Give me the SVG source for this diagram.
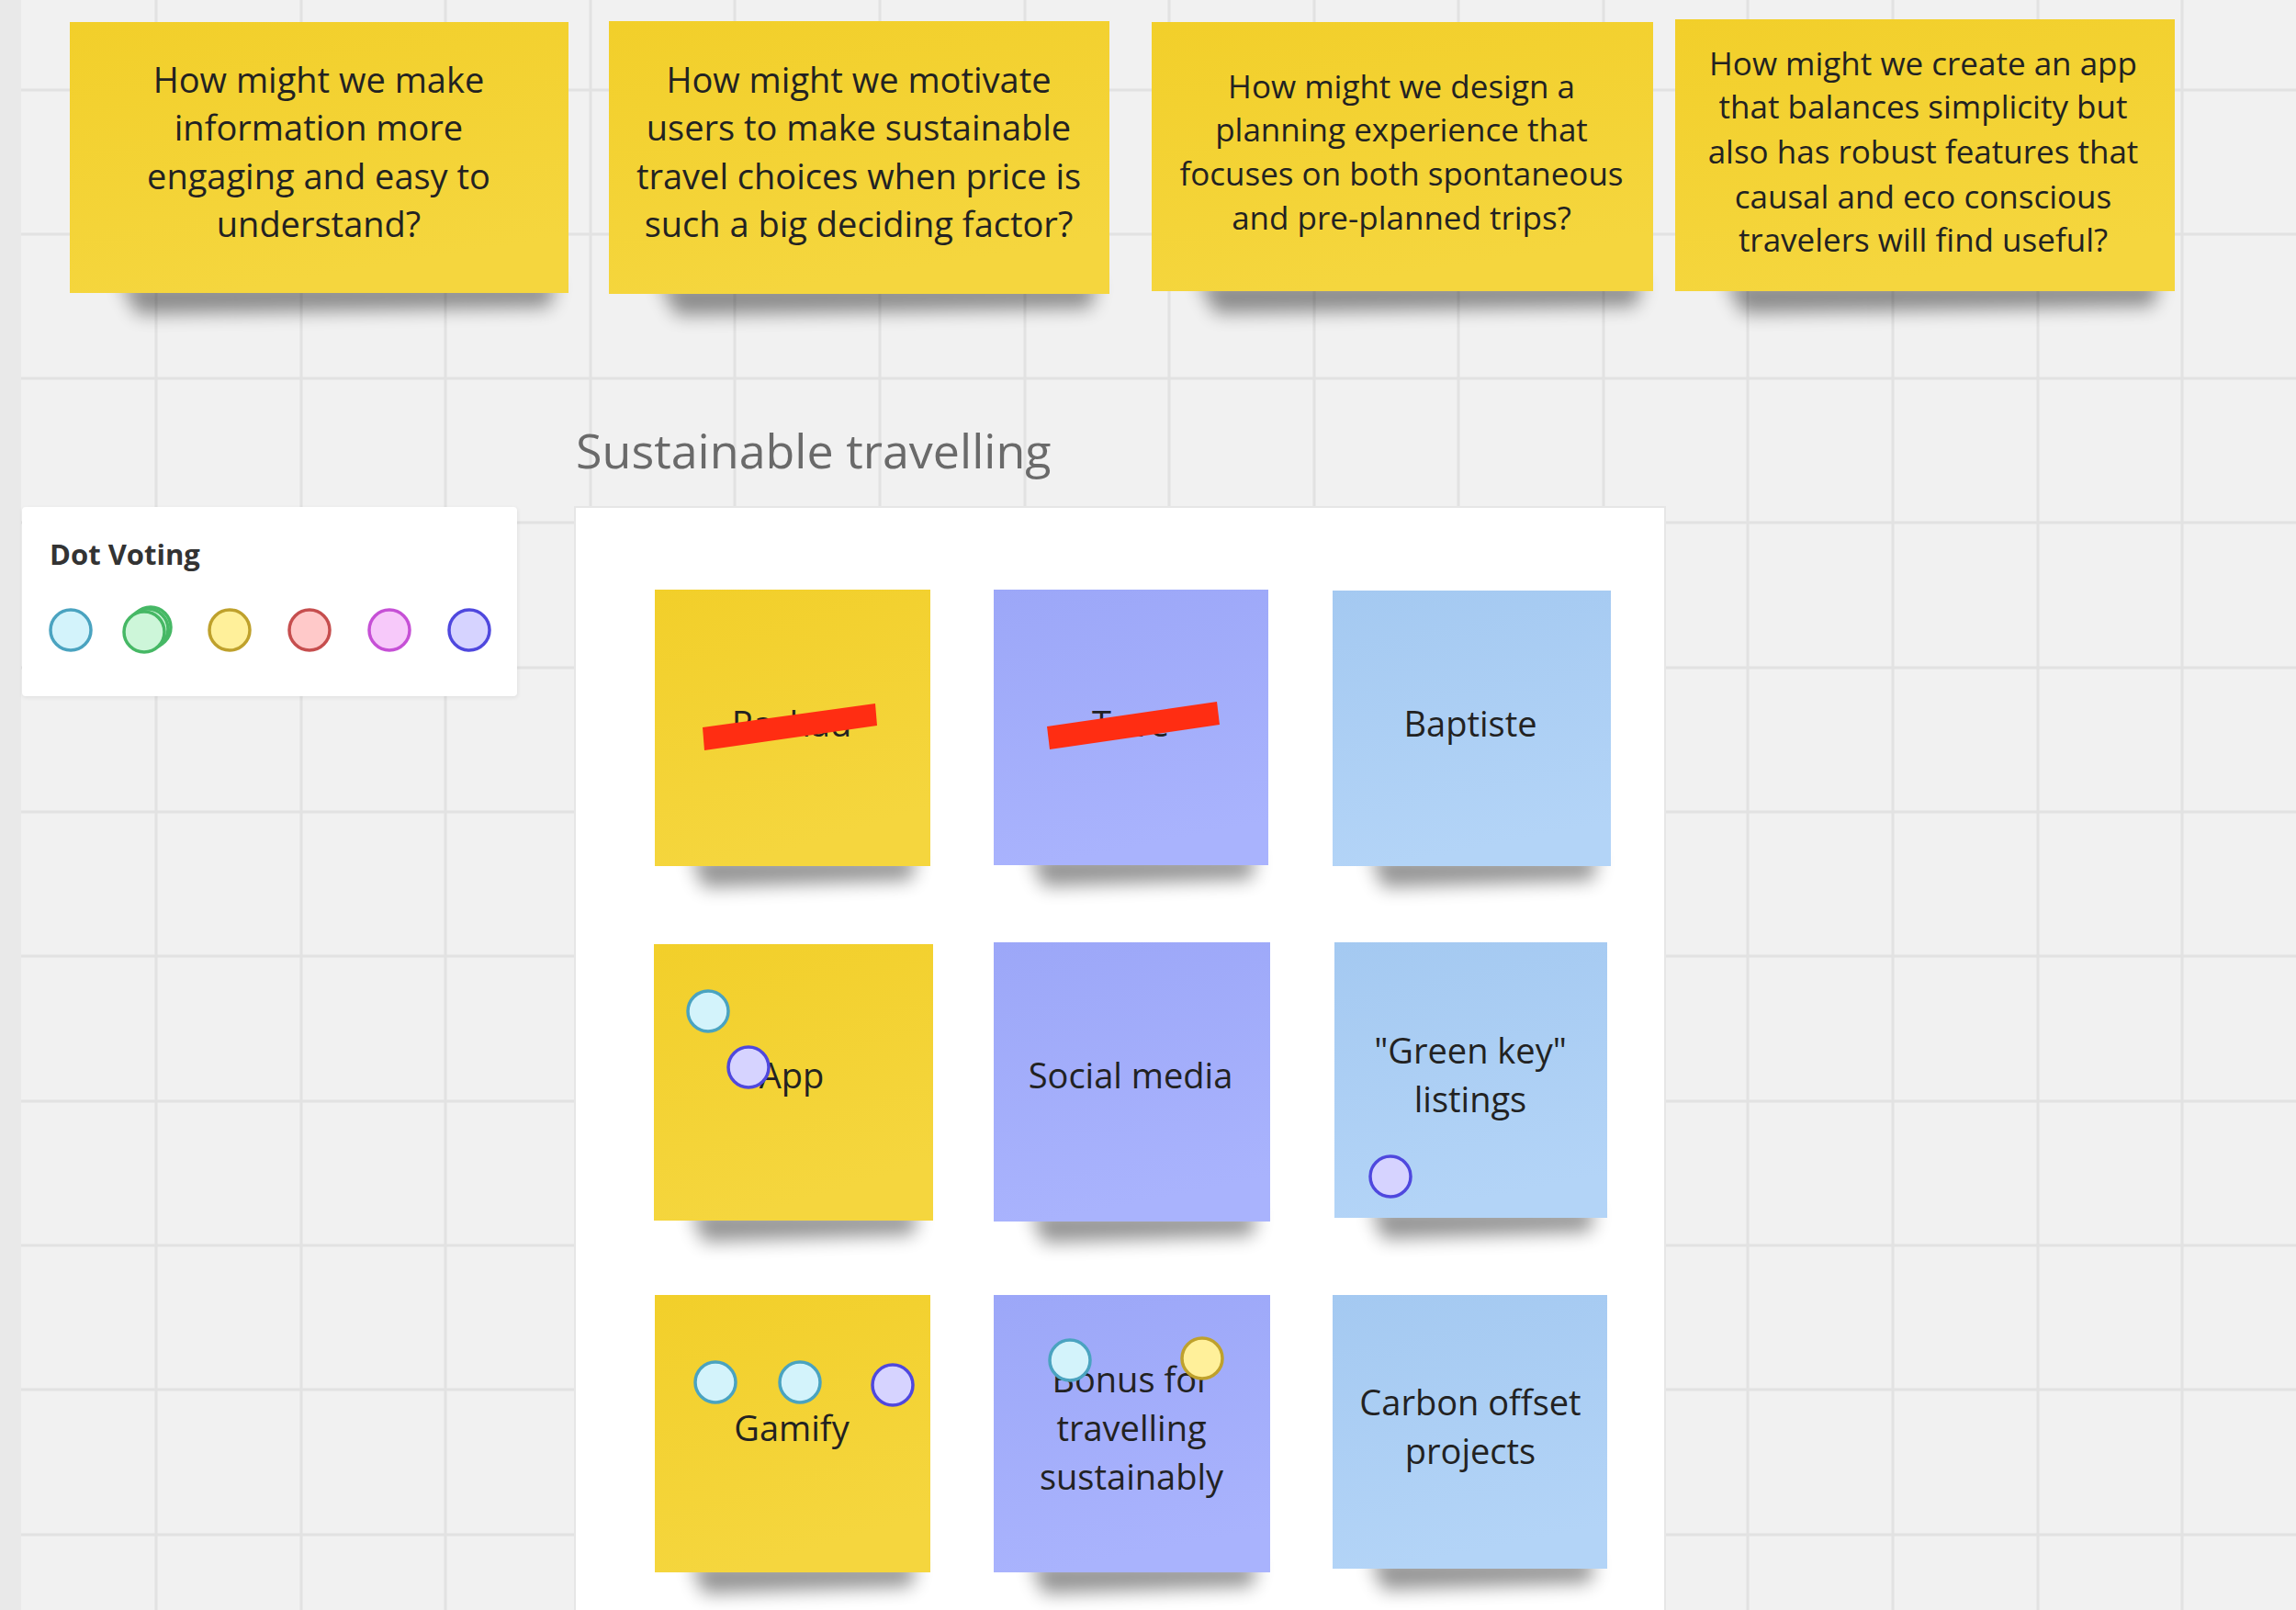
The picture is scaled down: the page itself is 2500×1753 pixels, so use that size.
<svg xmlns="http://www.w3.org/2000/svg" width="2500" height="1753" viewBox="0 0 2500 1753">
<style>
.note-text{font-family:"Open Sans","Liberation Sans",sans-serif;fill:#222222;text-anchor:middle}
.q{font-size:38px}
.q2{font-size:35px}
.g{font-size:38px}
.grid line{stroke:#e2e2e2;stroke-width:3}
.shadow{fill:#000;opacity:0.42;filter:url(#blur)}
.dot{stroke-width:3.5}
.d-blue{fill:#d3f3fb;stroke:#4aa3c0}
.d-green{fill:#cdf6d9;stroke:#46b865}
.d-yellow{fill:#fff09a;stroke:#bfa12c}
.d-red{fill:#ffc9c9;stroke:#c64e4e}
.d-pink{fill:#f7c9fa;stroke:#c650d6}
.d-purple{fill:#d6d3ff;stroke:#4f48de}
.strike{fill:#ff2d12}
</style>
<defs>
<filter id="blur" x="-20%" y="-200%" width="140%" height="500%"><feGaussianBlur stdDeviation="10"/></filter>
<filter id="panelsh" x="-10%" y="-10%" width="120%" height="130%"><feGaussianBlur stdDeviation="2"/></filter>
<linearGradient id="yel" x1="0" y1="0" x2="0.3" y2="1"><stop offset="0" stop-color="#f2cf2a"/><stop offset="1" stop-color="#f5d63e"/></linearGradient>
<linearGradient id="pur" x1="0" y1="0" x2="0.2" y2="1"><stop offset="0" stop-color="#9ca7f8"/><stop offset="1" stop-color="#a9b3fd"/></linearGradient>
<linearGradient id="blu" x1="0" y1="0" x2="0.2" y2="1"><stop offset="0" stop-color="#a4c9f1"/><stop offset="1" stop-color="#b3d4f7"/></linearGradient>
</defs>

<rect x="0" y="0" width="2500" height="1753" fill="#f1f1f1"/>
<g class="grid">
<line x1="170" y1="0" x2="170" y2="1753"/><line x1="328" y1="0" x2="328" y2="1753"/><line x1="485" y1="0" x2="485" y2="1753"/><line x1="643" y1="0" x2="643" y2="1753"/><line x1="800" y1="0" x2="800" y2="1753"/><line x1="958" y1="0" x2="958" y2="1753"/><line x1="1116" y1="0" x2="1116" y2="1753"/><line x1="1273" y1="0" x2="1273" y2="1753"/><line x1="1431" y1="0" x2="1431" y2="1753"/><line x1="1588" y1="0" x2="1588" y2="1753"/><line x1="1746" y1="0" x2="1746" y2="1753"/><line x1="1903" y1="0" x2="1903" y2="1753"/><line x1="2061" y1="0" x2="2061" y2="1753"/><line x1="2219" y1="0" x2="2219" y2="1753"/><line x1="2376" y1="0" x2="2376" y2="1753"/>
<line x1="0" y1="98" x2="2500" y2="98"/><line x1="0" y1="255" x2="2500" y2="255"/><line x1="0" y1="412" x2="2500" y2="412"/><line x1="0" y1="569" x2="2500" y2="569"/><line x1="0" y1="727" x2="2500" y2="727"/><line x1="0" y1="884" x2="2500" y2="884"/><line x1="0" y1="1041" x2="2500" y2="1041"/><line x1="0" y1="1199" x2="2500" y2="1199"/><line x1="0" y1="1356" x2="2500" y2="1356"/><line x1="0" y1="1513" x2="2500" y2="1513"/><line x1="0" y1="1671" x2="2500" y2="1671"/>
</g>
<rect x="0" y="0" width="23" height="1753" fill="#e9e9e9"/>

<!-- Top question notes -->
<g id="q1">
<path class="shadow" d="M130 306 L606 306 L598 334 L150 342 Z"/>
<rect x="76" y="24" width="543" height="295" fill="url(#yel)"/>
<text class="note-text q" x="347" y="101">How might we make</text>
<text class="note-text q" x="347" y="153">information more</text>
<text class="note-text q" x="347" y="206">engaging and easy to</text>
<text class="note-text q" x="347" y="258">understand?</text>
</g>
<g id="q2">
<path class="shadow" d="M717 307 L1195 307 L1187 335 L737 343 Z"/>
<rect x="663" y="23" width="545" height="297" fill="url(#yel)"/>
<text class="note-text q" x="935" y="101">How might we motivate</text>
<text class="note-text q" x="935" y="153">users to make sustainable</text>
<text class="note-text q" x="935" y="206">travel choices when price is</text>
<text class="note-text q" x="935" y="258">such a big deciding factor?</text>
</g>
<g id="q3">
<path class="shadow" d="M1304 305 L1789 305 L1781 333 L1324 341 Z"/>
<rect x="1254" y="24" width="546" height="293" fill="url(#yel)"/>
<text class="note-text q2" x="1526" y="107">How might we design a</text>
<text class="note-text q2" x="1526" y="154">planning experience that</text>
<text class="note-text q2" x="1526" y="202">focuses on both spontaneous</text>
<text class="note-text q2" x="1526" y="250">and pre-planned trips?</text>
</g>
<g id="q4">
<path class="shadow" d="M1878 305 L2352 305 L2344 333 L1898 341 Z"/>
<rect x="1824" y="21" width="544" height="296" fill="url(#yel)"/>
<text class="note-text q2" x="2094" y="82">How might we create an app</text>
<text class="note-text q2" x="2094" y="129">that balances simplicity but</text>
<text class="note-text q2" x="2094" y="178">also has robust features that</text>
<text class="note-text q2" x="2094" y="227">causal and eco conscious</text>
<text class="note-text q2" x="2094" y="274">travelers will find useful?</text>
</g>

<!-- Dot voting panel -->
<g id="dot-voting">
<rect x="24" y="553" width="540" height="207" rx="4" fill="#000" opacity="0.06" filter="url(#panelsh)"/>
<rect x="24" y="552" width="539" height="206" rx="4" fill="#ffffff"/>
<text x="54" y="615" font-family="'Open Sans','Liberation Sans',sans-serif" font-weight="bold" font-size="31" fill="#333333">Dot Voting</text>
<circle class="dot d-blue" cx="77" cy="686" r="22"/>
<circle class="dot d-green" cx="164" cy="683" r="22"/>
<circle class="dot d-green" cx="161" cy="685" r="22"/>
<circle class="dot d-green" cx="157" cy="688" r="22"/>
<circle class="dot d-yellow" cx="250" cy="686" r="22"/>
<circle class="dot d-red" cx="337" cy="686" r="22"/>
<circle class="dot d-pink" cx="424" cy="686" r="22"/>
<circle class="dot d-purple" cx="511" cy="686" r="22"/>
</g>

<!-- Frame -->
<g id="frame-sustainable-travelling">
<text x="627" y="510" font-family="'Open Sans','Liberation Sans',sans-serif" font-size="52" fill="#6a6a6a">Sustainable travelling</text>
<rect x="626" y="552" width="1187" height="1210" fill="#ffffff" stroke="#e6e6e6" stroke-width="2"/>
</g>

<!-- Grid notes row 1 -->
<g id="n-rashad">
<path class="shadow" d="M752 932 L998 932 L992 958 L766 966 Z"/>
<rect x="713" y="642" width="300" height="301" fill="url(#yel)"/>
<text class="note-text g" x="862" y="802">Rashad</text>
<polygon class="strike" points="765,792 953,766 955,790 767,817"/>
</g>
<g id="n-tove">
<path class="shadow" d="M1122 931 L1368 931 L1362 957 L1136 965 Z"/>
<rect x="1082" y="642" width="299" height="300" fill="url(#pur)"/>
<text class="note-text g" x="1231" y="802">Tove</text>
<polygon class="strike" points="1140,791 1325,764 1328,789 1143,816"/>
</g>
<g id="n-baptiste">
<path class="shadow" d="M1492 932 L1740 932 L1734 958 L1506 966 Z"/>
<rect x="1451" y="643" width="303" height="300" fill="url(#blu)"/>
<text class="note-text g" x="1601" y="802">Baptiste</text>
</g>

<!-- Row 2 -->
<g id="n-app">
<path class="shadow" d="M752 1318 L1000 1318 L994 1344 L766 1352 Z"/>
<rect x="712" y="1028" width="304" height="301" fill="url(#yel)"/>
<text class="note-text g" x="862" y="1185">App</text>
<circle class="dot d-blue" cx="771" cy="1101" r="22"/>
<circle class="dot d-purple" cx="815" cy="1162" r="22"/>
</g>
<g id="n-social-media">
<path class="shadow" d="M1122 1319 L1369 1319 L1363 1345 L1136 1353 Z"/>
<rect x="1082" y="1026" width="301" height="304" fill="url(#pur)"/>
<text class="note-text g" x="1231" y="1185">Social media</text>
</g>
<g id="n-green-key">
<path class="shadow" d="M1492 1315 L1737 1315 L1731 1341 L1506 1349 Z"/>
<rect x="1453" y="1026" width="297" height="300" fill="url(#blu)"/>
<text class="note-text g" x="1601" y="1158">"Green key"</text>
<text class="note-text g" x="1601" y="1211">listings</text>
<circle class="dot d-purple" cx="1514" cy="1281" r="22"/>
</g>

<!-- Row 3 -->
<g id="n-gamify">
<path class="shadow" d="M752 1701 L998 1701 L992 1727 L766 1735 Z"/>
<rect x="713" y="1410" width="300" height="302" fill="url(#yel)"/>
<text class="note-text g" x="862" y="1569">Gamify</text>
<circle class="dot d-blue" cx="779" cy="1505" r="22"/>
<circle class="dot d-blue" cx="871" cy="1505" r="22"/>
<circle class="dot d-purple" cx="972" cy="1508" r="22"/>
</g>
<g id="n-bonus">
<path class="shadow" d="M1122 1701 L1369 1701 L1363 1727 L1136 1735 Z"/>
<rect x="1082" y="1410" width="301" height="302" fill="url(#pur)"/>
<text class="note-text g" x="1232" y="1516">Bonus for</text>
<text class="note-text g" x="1232" y="1569">travelling</text>
<text class="note-text g" x="1232" y="1622">sustainably</text>
<circle class="dot d-blue" cx="1165" cy="1481" r="22"/>
<circle class="dot d-yellow" cx="1309" cy="1479" r="22"/>
</g>
<g id="n-carbon">
<path class="shadow" d="M1492 1697 L1737 1697 L1731 1723 L1506 1731 Z"/>
<rect x="1451" y="1410" width="299" height="298" fill="url(#blu)"/>
<text class="note-text g" x="1601" y="1541">Carbon offset</text>
<text class="note-text g" x="1601" y="1594">projects</text>
</g>

<g id="connectors"></g>
</svg>
